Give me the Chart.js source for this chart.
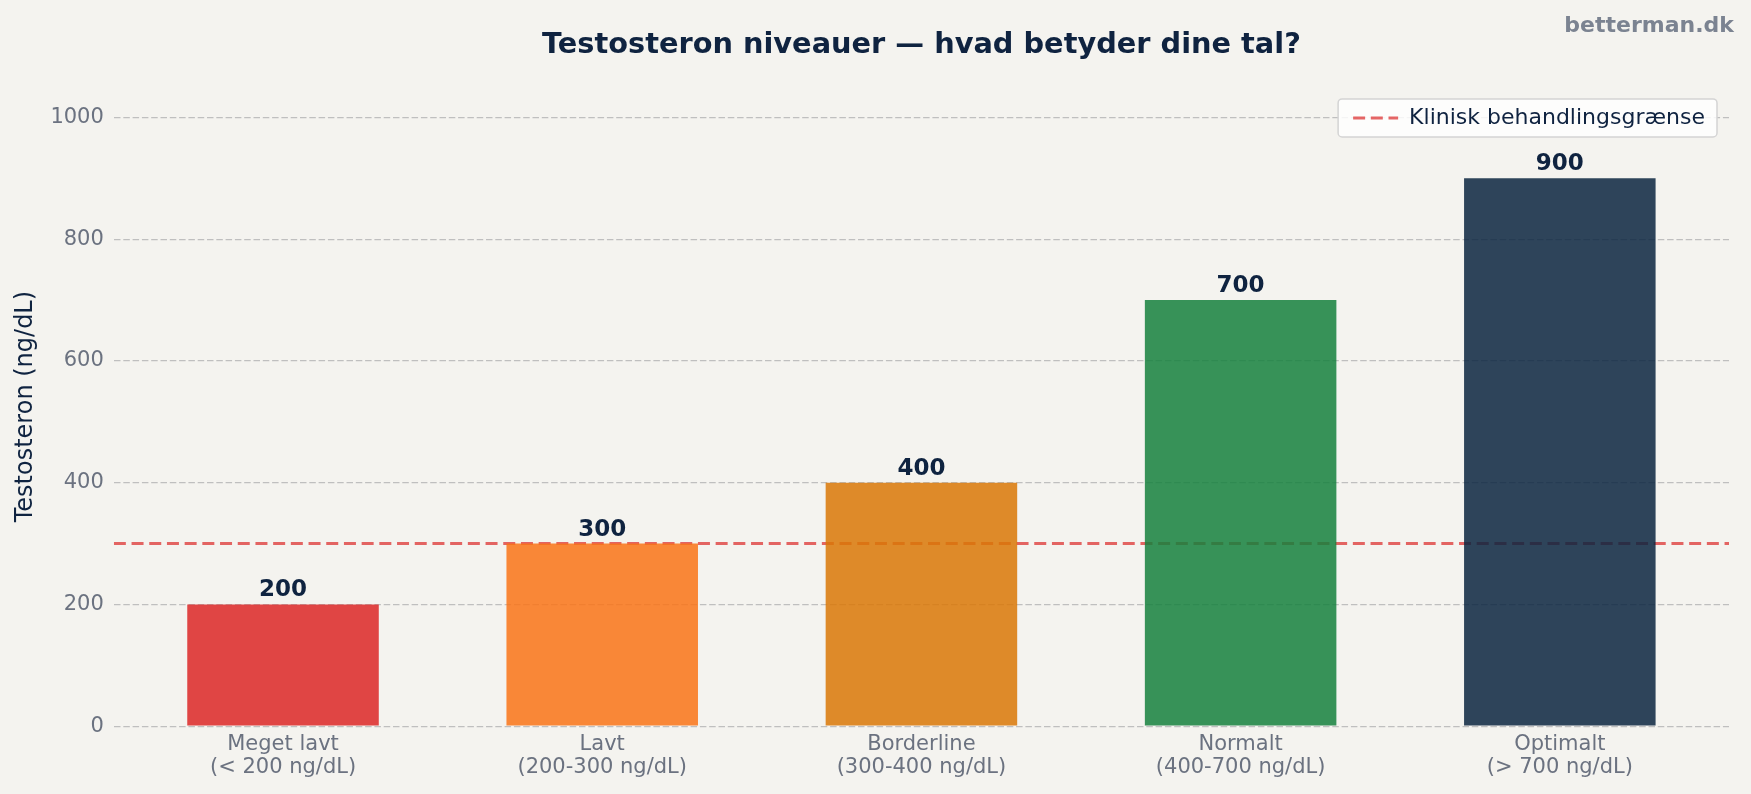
<!DOCTYPE html>
<html lang="da">
<head>
<meta charset="utf-8">
<title>Testosteron niveauer</title>
<script src="https://cdn.jsdelivr.net/npm/chart.js@4.4.1/dist/chart.umd.min.js"></script>
<style>
  html, body { margin: 0; padding: 0; background: #f4f3ef; }
  #wrap { width: 1751px; height: 794px; position: relative; }
</style>
</head>
<body>
<div id="wrap"><canvas id="chart"></canvas></div>
<script>
// chart data
const categories = [
  ['Meget lavt', '(< 200 ng/dL)'],
  ['Lavt', '(200-300 ng/dL)'],
  ['Borderline', '(300-400 ng/dL)'],
  ['Normalt', '(400-700 ng/dL)'],
  ['Optimalt', '(> 700 ng/dL)']
];
const levels = [200, 300, 400, 700, 900];
const barColors = ['#dc2626d9', '#f97316d9', '#d97706d9', '#15803dd9', '#0b2440d9'];
const threshold = 300;
const thresholdLabel = 'Klinisk behandlingsgrænse';
const yTicks = [0, 200, 400, 600, 800, 1000];

const navy = '#0f2340';
const grey = '#6b7280';
const xMin = -0.53, xMax = 4.53;

Chart.defaults.font.family = "'DejaVu Sans', sans-serif";
Chart.defaults.color = grey;

// value labels above the bars + watermark
const barLabels = {
  id: 'barLabels',
  afterDatasetsDraw(chart) {
    const ctx = chart.ctx;
    const meta = chart.getDatasetMeta(0);
    ctx.save();
    ctx.font = "bold 23px 'DejaVu Sans'";
    ctx.fillStyle = navy;
    ctx.textAlign = 'center';
    ctx.textBaseline = 'alphabetic';
    meta.data.forEach((bar, i) => {
      ctx.fillText(String(levels[i]), bar.x, bar.y - 8);
    });
    ctx.restore();
  },
  afterDraw(chart) {
    const ctx = chart.ctx;
    ctx.save();
    ctx.font = "bold 22px 'DejaVu Sans'";
    ctx.fillStyle = '#7b8391';
    ctx.textAlign = 'right';
    ctx.textBaseline = 'alphabetic';
    ctx.fillText('betterman.dk', chart.width - 17, 32);
    ctx.restore();
  }
};

// put the legend inside the plot area (no space taken) with a white box behind it
const legendOverlay = {
  id: 'legendOverlay',
  beforeLayout(chart) {
    const lg = chart.legend;
    if (!lg || lg._overlay) return;
    lg._overlay = true;
    const fit = lg.fit;
    lg.fit = function () {
      fit.call(this);
      this._realHeight = this.height;
      this.height = 0;
    };
    const draw = lg.draw;
    lg.draw = function () {
      const hb = this.legendHitBoxes && this.legendHitBoxes[0];
      if (hb) {
        const ctx = this.ctx;
        const yc = hb.top + hb.height / 2;
        const x1 = hb.left - 15, x2 = hb.left + hb.width + 12;
        ctx.save();
        ctx.beginPath();
        ctx.roundRect(x1, yc - 19, x2 - x1, 38, 4);
        ctx.fillStyle = 'rgba(255,255,255,0.82)';
        ctx.fill();
        ctx.lineWidth = 1.5;
        ctx.strokeStyle = '#d4d4d4';
        ctx.stroke();
        ctx.restore();
      }
      draw.call(this);
    };
    lg._layers = function () {
      return [{ z: 1, draw: (area) => this.draw(area) }];
    };
  },
  afterLayout(chart) {
    const lg = chart.legend;
    if (lg && lg._realHeight) {
      lg.top -= 4;
      lg.height = lg._realHeight;
      lg.bottom = lg.top + lg.height;
    }
  }
};

const ctx = document.getElementById('chart').getContext('2d');
new Chart(ctx, {
  type: 'bar',
  data: {
    datasets: [{
      label: 'Testosteron',
      data: levels.map((v, i) => ({ x: i, y: v })),
      backgroundColor: barColors,
      borderWidth: 0,
      categoryPercentage: 0.6,
      barPercentage: 1.0,
      order: 0
    }, {
      type: 'line',
      label: thresholdLabel,
      data: [{ x: xMin, y: threshold }, { x: xMax, y: threshold }],
      borderColor: 'rgba(220,38,38,0.7)',
      backgroundColor: 'rgba(220,38,38,0.7)',
      borderWidth: 3,
      borderDash: [12, 5.7],
      pointRadius: 0,
      fill: false,
      order: 1
    }]
  },
  options: {
    responsive: true,
    maintainAspectRatio: false,
    animation: false,
    layout: { padding: { top: 0, right: 22, bottom: 8, left: 0 } },
    scales: {
      x: {
        type: 'linear',
        offset: false,
        bounds: 'data',
        min: xMin,
        max: xMax,
        afterBuildTicks: (scale) => { scale.ticks = categories.map((c, i) => ({ value: i })); },
        grid: { display: false, drawTicks: false, offset: false },
        border: { display: false },
        ticks: {
          color: grey,
          padding: 6.8,
          maxRotation: 0,
          font: { size: 21, lineHeight: 1.1 },
          callback: (value) => categories[value]
        }
      },
      y: {
        bounds: 'data',
        min: 0,
        max: 1050,
        afterBuildTicks: (scale) => { scale.ticks = yTicks.map(v => ({ value: v })); },
        grid: { color: '#bfbfbf', lineWidth: 1.2, drawTicks: false },
        border: { display: false, dash: [6.5, 2.8] },
        ticks: { color: grey, padding: 10, font: { size: 21 }, callback: (v) => String(v) },
        title: {
          display: true,
          text: 'Testosteron (ng/dL)',
          color: navy,
          font: { size: 24 },
          padding: { top: 11.6, bottom: 0 }
        }
      }
    },
    plugins: {
      tooltip: { enabled: false },
      title: {
        display: true,
        text: 'Testosteron niveauer — hvad betyder dine tal?',
        color: navy,
        fullSize: false,
        font: { size: 28.8, weight: 'bold' },
        padding: { top: 28.5, bottom: 23.9 }
      },
      legend: {
        display: true,
        position: 'top',
        align: 'end',
        labels: {
          color: navy,
          font: { size: 22 },
          padding: 24,
          usePointStyle: true,
          pointStyle: 'line',
          pointStyleWidth: 45,
          generateLabels(chart) {
            const items = Chart.defaults.plugins.legend.labels.generateLabels(chart);
            return items.filter(it => it.datasetIndex === 1).map(it => {
              const ds = chart.data.datasets[it.datasetIndex];
              return Object.assign(it, {
                lineDash: ds.borderDash,
                lineWidth: ds.borderWidth,
                strokeStyle: ds.borderColor,
                pointStyle: 'line'
              });
            });
          }
        }
      }
    }
  },
  plugins: [barLabels, legendOverlay]
});
</script>
</body>
</html>
